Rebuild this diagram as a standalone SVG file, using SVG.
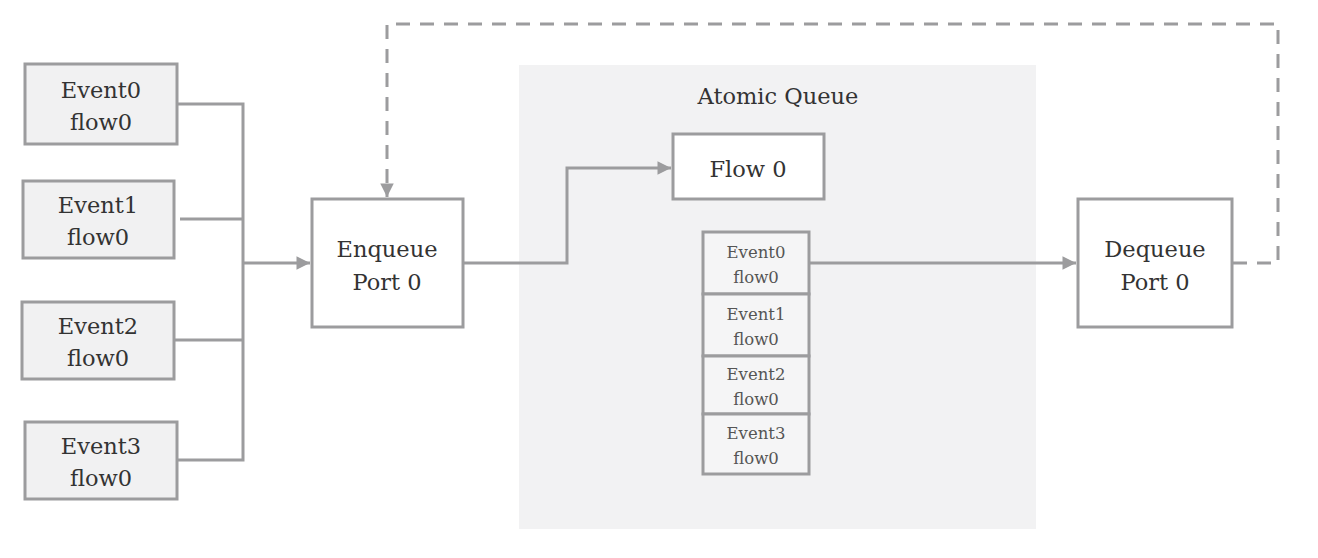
<svg xmlns="http://www.w3.org/2000/svg" width="1318" height="558" viewBox="0 0 1318 558">
<style>
.box{stroke:#9c9c9e;stroke-width:3}
.ev{fill:#f1f1f2}
.wh{fill:#ffffff}
.st{fill:#f5f5f6}
.t{font-family:"DejaVu Serif","Liberation Serif",serif;font-size:22.5px;fill:#333333;text-anchor:middle}
.s{font-family:"DejaVu Serif","Liberation Serif",serif;font-size:16.5px;fill:#555555;text-anchor:middle}
.ln{fill:none;stroke:#9c9c9e;stroke-width:3}
.dash{stroke-dasharray:14 10}
</style>
<defs>
<marker id="ah" viewBox="0 0 10 10" refX="10" refY="5" markerWidth="5" markerHeight="4.5" markerUnits="strokeWidth" orient="auto">
<path d="M0,0 L10,5 L0,10 Z" fill="#9c9c9e"/>
</marker>
</defs>
<rect id="atomic-queue" x="519" y="65" width="517" height="464" fill="#f2f2f3"/>
<text class="t" x="778" y="104">Atomic Queue</text>
<g id="connectors">
<path class="ln" d="M177,104 H243 V460 H177"/>
<path class="ln" d="M180,219 H243"/>
<path class="ln" d="M174,340 H243"/>
<path class="ln" d="M243,263 H310" marker-end="url(#ah)"/>
<path class="ln" d="M463,263 H567 V168 H671" marker-end="url(#ah)"/>
<path class="ln" d="M809,263 H1076" marker-end="url(#ah)"/>
<path class="ln dash" d="M1233,263 H1278 V24 H387 V197" marker-end="url(#ah)"/>
</g>
<g id="event0"><rect class="box ev" x="25" y="64" width="152" height="80"/><text class="t" x="101" y="98">Event0</text><text class="t" x="101" y="130">flow0</text></g>
<g id="event1"><rect class="box ev" x="23" y="181" width="151" height="77"/><text class="t" x="98" y="213">Event1</text><text class="t" x="98" y="245">flow0</text></g>
<g id="event2"><rect class="box ev" x="22" y="302" width="152" height="77"/><text class="t" x="98" y="334">Event2</text><text class="t" x="98" y="366">flow0</text></g>
<g id="event3"><rect class="box ev" x="25" y="422" width="152" height="77"/><text class="t" x="101" y="454">Event3</text><text class="t" x="101" y="486">flow0</text></g>
<g id="enqueue"><rect class="box wh" x="312" y="199" width="151" height="128"/><text class="t" x="387" y="257">Enqueue</text><text class="t" x="387" y="290">Port 0</text></g>
<g id="flow0"><rect class="box wh" x="673" y="134" width="151" height="65"/><text class="t" x="748" y="177">Flow 0</text></g>
<g id="stack">
<rect class="box st" x="703" y="232" width="106" height="62"/><text class="s" x="756" y="258">Event0</text><text class="s" x="756" y="283">flow0</text>
<rect class="box st" x="703" y="294" width="106" height="62"/><text class="s" x="756" y="320">Event1</text><text class="s" x="756" y="345">flow0</text>
<rect class="box st" x="703" y="356" width="106" height="58"/><text class="s" x="756" y="380">Event2</text><text class="s" x="756" y="405">flow0</text>
<rect class="box st" x="703" y="414" width="106" height="60"/><text class="s" x="756" y="439">Event3</text><text class="s" x="756" y="464">flow0</text>
</g>
<g id="dequeue"><rect class="box wh" x="1078" y="199" width="154" height="128"/><text class="t" x="1155" y="257">Dequeue</text><text class="t" x="1155" y="290">Port 0</text></g>
</svg>
